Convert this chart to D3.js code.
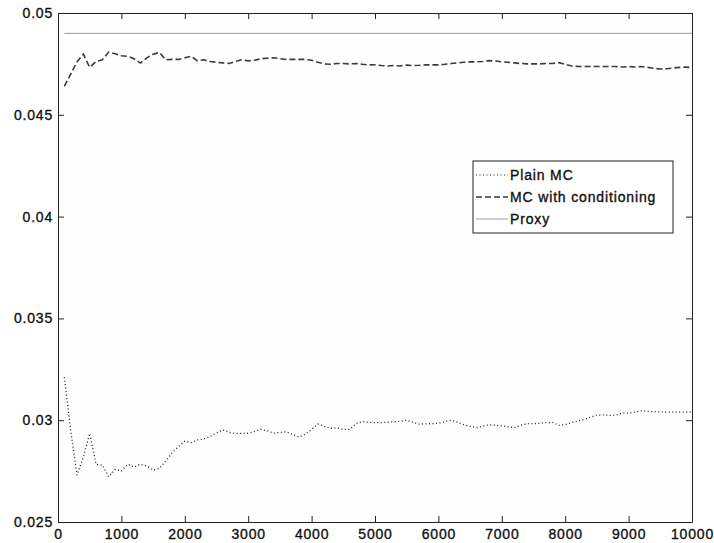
<!DOCTYPE html>
<html>
<head>
<meta charset="utf-8">
<script src="https://cdnjs.cloudflare.com/ajax/libs/d3/7.8.5/d3.min.js"></script>
<style>
    body { margin: 0; background: #fff; }
    text { font-family: "Liberation Sans", Arial, sans-serif; fill: #111; stroke: #111; stroke-width: 0.35px; }
</style>
</head>
<body>
<div class="chart"></div>
<script>
//Sample sizes (x axis)
var samples = d3.range(1, 101).map(i => i * 100);

//Plain MC estimates
var plainMC = [
    0.03211, 0.02950, 0.02730, 0.02820, 0.02935, 0.02783, 0.02780, 0.02722, 0.02758, 0.02750,
    0.02784, 0.02770, 0.02784, 0.02775, 0.02755, 0.02763, 0.02800, 0.02840, 0.02870, 0.02897,
    0.02890, 0.02903, 0.02908, 0.02920, 0.02938, 0.02952, 0.02940, 0.02935, 0.02935, 0.02936,
    0.02945, 0.02955, 0.02948, 0.02936, 0.02940, 0.02943, 0.02930, 0.02918, 0.02930, 0.02955,
    0.02981, 0.02970, 0.02960, 0.02962, 0.02955, 0.02955, 0.02983, 0.02993, 0.02990, 0.02988,
    0.02988, 0.02990, 0.02992, 0.02995, 0.03000, 0.02990, 0.02981, 0.02982, 0.02983, 0.02985,
    0.02992, 0.03000, 0.02990, 0.02978, 0.02970, 0.02963, 0.02970, 0.02977, 0.02975, 0.02972,
    0.02968, 0.02963, 0.02975, 0.02983, 0.02983, 0.02985, 0.02988, 0.02989, 0.02975, 0.02978,
    0.02988, 0.02996, 0.03004, 0.03015, 0.03025, 0.03026, 0.03024, 0.03025, 0.03035, 0.03035,
    0.03040, 0.03046, 0.03043, 0.03042, 0.03041, 0.03040, 0.03040, 0.03040, 0.03040, 0.03041
];

//MC with conditioning estimates
var mcCond = [
    0.04640, 0.04700, 0.04760, 0.04798, 0.04733, 0.04762, 0.04770, 0.04808, 0.04800, 0.04790,
    0.04787, 0.04775, 0.04754, 0.04780, 0.04798, 0.04806, 0.04770, 0.04772, 0.04772, 0.04780,
    0.04787, 0.04765, 0.04770, 0.04762, 0.04758, 0.04755, 0.04752, 0.04762, 0.04770, 0.04765,
    0.04768, 0.04775, 0.04778, 0.04780, 0.04776, 0.04772, 0.04772, 0.04772, 0.04772, 0.04768,
    0.04758, 0.04750, 0.04748, 0.04752, 0.04752, 0.04750, 0.04752, 0.04748, 0.04745, 0.04746,
    0.04742, 0.04740, 0.04742, 0.04740, 0.04744, 0.04742, 0.04743, 0.04745, 0.04745, 0.04745,
    0.04748, 0.04752, 0.04755, 0.04758, 0.04760, 0.04760, 0.04762, 0.04766, 0.04764, 0.04760,
    0.04758, 0.04755, 0.04752, 0.04750, 0.04750, 0.04750, 0.04752, 0.04752, 0.04756, 0.04748,
    0.04740, 0.04738, 0.04737, 0.04737, 0.04737, 0.04737, 0.04737, 0.04737, 0.04735, 0.04737,
    0.04735, 0.04737, 0.04733, 0.04728, 0.04725, 0.04726, 0.04730, 0.04733, 0.04734, 0.04732
];

//Proxy value (constant)
var proxy = 0.0490;

//Tick labels
var xTicks = [0, 1000, 2000, 3000, 4000, 5000, 6000, 7000, 8000, 9000, 10000];
var yTicks = [0.025, 0.03, 0.035, 0.04, 0.045, 0.05];

//Legend entries
var legendNames = ["Plain MC", "MC with conditioning", "Proxy"];

//Width and height
var w = 714;
var h = 543;
var margin = { top: 13, right: 22, bottom: 21, left: 58 };

//Create SVG element
var svg = d3.select(".chart")
    .append("svg")
    .attr("width", w)
    .attr("height", h);

//Create scale functions
var xScale = d3.scaleLinear()
    .domain([0, 10000])
    .range([margin.left, w - margin.right]);

var yScale = d3.scaleLinear()
    .domain([0.025, 0.05])
    .range([h - margin.bottom, margin.top]);

//Plot background
svg.append("rect")
    .attr("x", xScale(0))
    .attr("y", yScale(0.05))
    .attr("width", xScale(10000) - xScale(0))
    .attr("height", yScale(0.025) - yScale(0.05))
    .attr("fill", "#fefefe");

//Create axes (ticks point inward, box is mirrored)
var axes = [
    { a: d3.axisBottom(xScale).tickValues(xTicks).tickFormat(d3.format("d")), t: "translate(0," + yScale(0.025) + ")" },
    { a: d3.axisTop(xScale).tickValues(xTicks).tickFormat(""), t: "translate(0," + yScale(0.05) + ")" },
    { a: d3.axisLeft(yScale).tickValues(yTicks).tickFormat(d => String(d)), t: "translate(" + xScale(0) + ",0)" },
    { a: d3.axisRight(yScale).tickValues(yTicks).tickFormat(""), t: "translate(" + xScale(10000) + ",0)" }
];

axes.forEach((ax, i) => {
    var g = svg.append("g")
        .attr("transform", ax.t)
        .call(ax.a.tickSizeInner(-6).tickSizeOuter(0));
    g.select(".domain").attr("stroke", "#222");
    g.selectAll(".tick line").attr("stroke", "#222");
    g.selectAll(".tick text")
        .attr("font-size", 14)
        .attr("letter-spacing", "0.8px")
        .attr("fill", "#111");
    if (i == 0) g.selectAll(".tick text").attr("y", 17).attr("dy", 0);
    if (i == 2) g.selectAll(".tick text").attr("x", -5);
});

//Line generator
var line = d3.line()
    .x((d, i) => xScale(samples[i]))
    .y(d => yScale(d));

//Proxy line
svg.append("line")
    .attr("x1", xScale(samples[0]))
    .attr("x2", xScale(10000))
    .attr("y1", yScale(proxy))
    .attr("y2", yScale(proxy))
    .attr("stroke", "#999")
    .attr("stroke-width", 1);

//MC with conditioning (dashed)
svg.append("path")
    .datum(mcCond)
    .attr("d", line)
    .attr("fill", "none")
    .attr("stroke", "#3a3a3a")
    .attr("stroke-width", 1.6)
    .attr("stroke-dasharray", "6,3");

//Plain MC (dotted)
svg.append("path")
    .datum(plainMC)
    .attr("d", line)
    .attr("fill", "none")
    .attr("stroke", "#222")
    .attr("stroke-width", 1.3)
    .attr("stroke-dasharray", "1,2.5");

//Add legend
var legend = svg.append("g")
    .attr("transform", "translate(473, 161)");

legend.append("rect")
    .attr("x", 0)
    .attr("y", 0)
    .attr("width", 200)
    .attr("height", 72)
    .attr("fill", "#fff")
    .attr("stroke", "#222")
    .attr("stroke-width", 1);

var legendStyles = [
    { stroke: "#222", width: 1.2, dash: "1,2.5" },
    { stroke: "#3a3a3a", width: 1.6, dash: "6,3" },
    { stroke: "#999", width: 1, dash: null }
];

legend.selectAll(".entry")
    .data(legendNames)
    .enter()
    .append("line")
    .attr("x1", 3)
    .attr("x2", 35)
    .attr("y1", (d, i) => 14 + i * 22)
    .attr("y2", (d, i) => 14 + i * 22)
    .attr("stroke", (d, i) => legendStyles[i].stroke)
    .attr("stroke-width", (d, i) => legendStyles[i].width)
    .attr("stroke-dasharray", (d, i) => legendStyles[i].dash);

legend.selectAll(".label")
    .data(legendNames)
    .enter()
    .append("text")
    .attr("x", 37)
    .attr("y", (d, i) => 14 + i * 22)
    .attr("dy", "0.36em")
    .attr("font-size", 14)
    .attr("letter-spacing", "0.85px")
    .text(d => d);
</script>
</body>
</html>
